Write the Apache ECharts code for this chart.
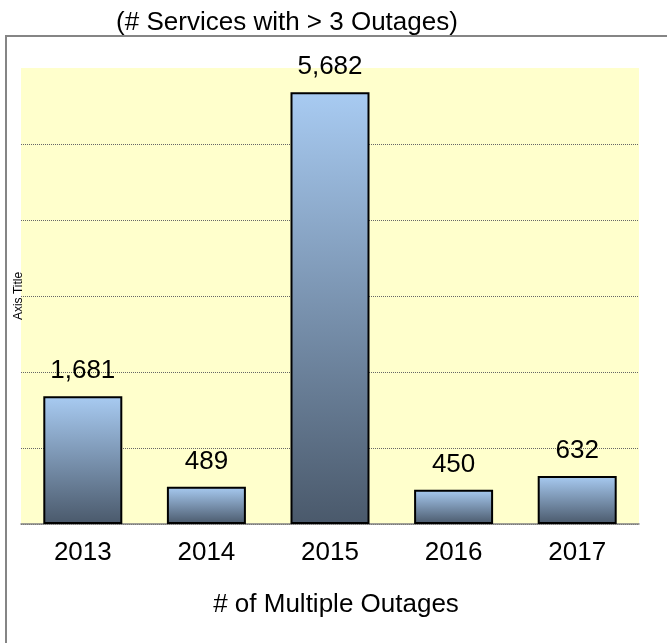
<!DOCTYPE html>
<html>
<head>
<meta charset="utf-8">
<script src="https://cdn.jsdelivr.net/npm/echarts@6/dist/echarts.min.js"></script>
<style>
  html, body { margin: 0; padding: 0; background: #fff; }
  #chart { width: 667px; height: 643px; }
</style>
</head>
<body>
<div id="chart"></div>
<script>
// data
var years = ["2013", "2014", "2015", "2016", "2017"];
var outages = [1681, 489, 5682, 450, 632];

var font = "'Liberation Sans', Arial, sans-serif";

var myChart = echarts.init(document.getElementById("chart"));
myChart.setOption({
  animation: false,
  textStyle: { fontFamily: font },
  title: {
    text: "(# Services with > 3 Outages)",
    left: 282,
    textAlign: "center",
    top: 5,
    textStyle: { fontSize: 26, fontWeight: "normal", color: "#000", fontFamily: font },
  },
  graphic: [
    {
      // outer frame, runs off the right and bottom edge
      type: "rect",
      shape: { x: 6, y: 36, width: 700, height: 640 },
      style: { fill: null, stroke: "#858585", lineWidth: 2 },
      z: -1,
    },
  ],
  grid: {
    left: 21,
    right: 28,
    top: 68,
    bottom: 119,
    show: true,
    backgroundColor: "#FFFFCC",
    borderWidth: 0,
  },
  xAxis: {
    type: "category",
    data: years,
    name: "# of Multiple Outages",
    nameLocation: "middle",
    nameGap: 68,
    nameTextStyle: { fontSize: 26, color: "#000", fontFamily: font, padding: [0, 0, 0, 12] },
    axisLine: { lineStyle: { color: "#808080", width: 1.5 } },
    axisTick: { length: 6, lineStyle: { color: "#808080" } },
    axisLabel: { fontSize: 26, color: "#000", margin: 16, fontFamily: font },
  },
  yAxis: {
    type: "value",
    min: 0,
    max: 6000,
    interval: 1000,
    name: "Axis Title",
    nameLocation: "middle",
    nameRotate: 90,
    nameGap: -4,
    nameTextStyle: { fontSize: 12, color: "#000", fontFamily: font },
    axisLine: { show: false },
    axisTick: { show: false },
    axisLabel: { show: false },
    splitLine: {
      show: true,
      showMaxLine: false,
      lineStyle: { color: "#666666", type: [1, 1], width: 1 },
    },
  },
  series: [
    {
      type: "bar",
      data: outages,
      barWidth: 79,
      itemStyle: {
        color: new echarts.graphic.LinearGradient(0, 0, 0, 1, [
          { offset: 0, color: "#A8CBF2" },
          { offset: 1, color: "#4A596B" },
        ]),
        borderColor: "#000",
        borderWidth: 2,
      },
      label: {
        show: true,
        position: "top",
        distance: 12,
        fontSize: 26,
        color: "#000",
        fontFamily: font,
        formatter: function (p) {
          return p.value.toLocaleString("en-US");
        },
      },
    },
  ],
});
</script>
</body>
</html>
